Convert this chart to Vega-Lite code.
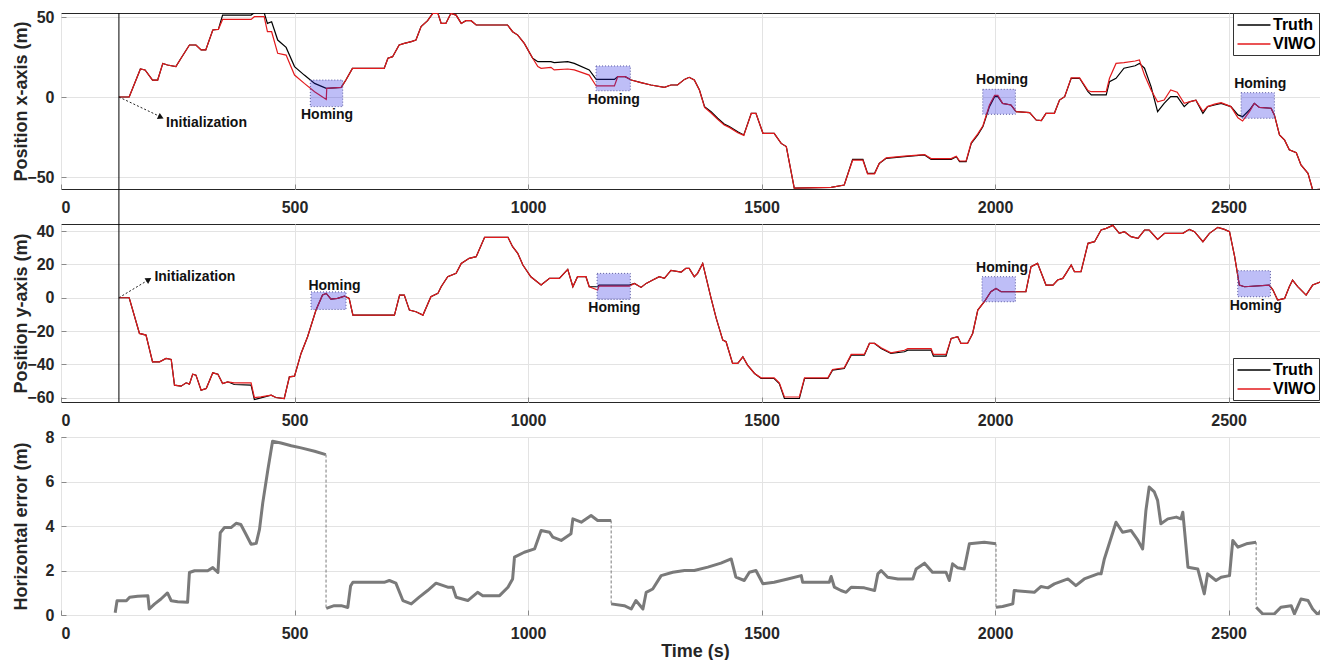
{
  "$schema": "https://vega.github.io/schema/vega-lite/v6.json",
  "padding": {"left": 11, "top": 8, "right": 0, "bottom": 0},
  "bounds": "flush",
  "spacing": 35,
  "background": "white",
  "config": {
    "font": "Liberation Sans",
    "view": {"stroke": "#262626", "strokeWidth": 1},
    "axis": {
      "labelFont": "Liberation Sans", "labelFontWeight": "bold", "labelFontSize": 16, "labelColor": "#262626",
      "titleFont": "Liberation Sans", "titleFontWeight": "bold", "titleFontSize": 18, "titleColor": "#262626",
      "gridColor": "#e3e3e3", "gridWidth": 1, "domain": false, "ticks": true, "tickSize": -5, "tickColor": "#8a8a8a",
      "labelOverlap": false, "format": "d", "tickCount": 20
    },
    "axisX": {"labelPadding": 15},
    "axisY": {"labelPadding": 12, "titleX": -31},
    "legend": {
      "title": null, "orient": "none", "symbolType": "M-2,0H2", "symbolSize": 272, "symbolStrokeWidth": 1.5,
      "symbolOffset": 9, "labelOffset": 10,
      "labelFont": "Liberation Sans", "labelFontSize": 16, "labelFontWeight": "bold", "labelColor": "black",
      "strokeColor": "#333333", "fillColor": "white", "padding": 3, "rowPadding": 2
    }
  },
  "resolve": {"scale": {"color": "independent"}, "legend": {"color": "independent"}},
  "datasets": {
    "px": [
      {"t":124,"Truth":0,"VIWO":0},{"t":146,"Truth":0,"VIWO":0},{"t":170,"Truth":17.5,"VIWO":17.5},{"t":180,"Truth":16.9,"VIWO":16.9},
      {"t":196,"Truth":10.6,"VIWO":10.6},{"t":207,"Truth":10.6,"VIWO":10.6},{"t":218,"Truth":21,"VIWO":21},{"t":228,"Truth":20,"VIWO":20},
      {"t":246,"Truth":19,"VIWO":19},{"t":257,"Truth":24.2,"VIWO":24.2},{"t":275,"Truth":32.5,"VIWO":32.5},{"t":289,"Truth":32.5,"VIWO":32.5},
      {"t":300,"Truth":29.4,"VIWO":29.4},{"t":310,"Truth":29.4,"VIWO":29.4},{"t":325,"Truth":41.9,"VIWO":41.9},{"t":337,"Truth":42.3,"VIWO":42.3},
      {"t":346,"Truth":51.2,"VIWO":48.5},{"t":407,"Truth":51.2,"VIWO":48.5},{"t":414,"Truth":52.7,"VIWO":50.2},{"t":435,"Truth":52.7,"VIWO":50.2},
      {"t":442,"Truth":46,"VIWO":40.8},{"t":451,"Truth":47,"VIWO":40.8},{"t":464,"Truth":35.6,"VIWO":27.3},{"t":482,"Truth":31,"VIWO":26.2},
      {"t":500,"Truth":19,"VIWO":13.7},{"t":521,"Truth":13.7,"VIWO":8.5},{"t":543,"Truth":8.5,"VIWO":3.3},{"t":568,"Truth":5.4,"VIWO":-1.5},
      {"t":569,"Truth":5.4,"VIWO":5.4},{"t":600,"Truth":6,"VIWO":6},{"t":610,"Truth":10.6,"VIWO":10.6},{"t":624,"Truth":17.9,"VIWO":17.9},
      {"t":692,"Truth":17.9,"VIWO":17.9},{"t":700,"Truth":24.2,"VIWO":24.2},{"t":710,"Truth":25.2,"VIWO":25.2},{"t":724,"Truth":32.5,"VIWO":32.5},
      {"t":735,"Truth":33.5,"VIWO":33.5},{"t":750,"Truth":34.6,"VIWO":34.6},{"t":760,"Truth":35.6,"VIWO":35.6},{"t":771,"Truth":44,"VIWO":44},
      {"t":785,"Truth":47.7,"VIWO":47.7},{"t":796,"Truth":52.3,"VIWO":52.3},{"t":807,"Truth":52.3,"VIWO":52.3},{"t":814,"Truth":46,"VIWO":46},
      {"t":824,"Truth":46,"VIWO":46},{"t":835,"Truth":52.3,"VIWO":52.3},{"t":846,"Truth":51.2,"VIWO":51.2},{"t":857,"Truth":46,"VIWO":46},
      {"t":867,"Truth":47.7,"VIWO":47.7},{"t":878,"Truth":47.7,"VIWO":47.7},{"t":889,"Truth":45,"VIWO":45},{"t":956,"Truth":45,"VIWO":45},
      {"t":967,"Truth":40.8,"VIWO":40.8},{"t":978,"Truth":38.7,"VIWO":38.7},{"t":992,"Truth":33.5,"VIWO":33.5},{"t":1010,"Truth":24.2,"VIWO":24.2},
      {"t":1021,"Truth":22.1,"VIWO":19},{"t":1028,"Truth":22.1,"VIWO":17.9},{"t":1049,"Truth":22.1,"VIWO":18.5},{"t":1056,"Truth":21.5,"VIWO":16.9},
      {"t":1085,"Truth":22.1,"VIWO":17.5},{"t":1099,"Truth":21,"VIWO":16.9},{"t":1131,"Truth":16.9,"VIWO":13.7},{"t":1146,"Truth":11,"VIWO":6.9},
      {"t":1185,"Truth":11,"VIWO":6.9},{"t":1192,"Truth":12.7,"VIWO":12.7},{"t":1208,"Truth":12.7,"VIWO":12.7},{"t":1221,"Truth":10.6,"VIWO":10.6},
      {"t":1242,"Truth":9,"VIWO":9},{"t":1263,"Truth":7.5,"VIWO":7.5},{"t":1292,"Truth":6,"VIWO":6},{"t":1306,"Truth":7.5,"VIWO":7.5},
      {"t":1320,"Truth":7.5,"VIWO":7.5},{"t":1335,"Truth":11,"VIWO":11},{"t":1345,"Truth":12.3,"VIWO":12.3},{"t":1356,"Truth":10.6,"VIWO":10.6},
      {"t":1367,"Truth":4.4,"VIWO":4.4},{"t":1378,"Truth":-6,"VIWO":-6.5},{"t":1392,"Truth":-9.2,"VIWO":-10},{"t":1406,"Truth":-13.3,"VIWO":-14},
      {"t":1420,"Truth":-16.9,"VIWO":-17.5},{"t":1431,"Truth":-18.5,"VIWO":-19},{"t":1449,"Truth":-21.7,"VIWO":-22.3},{"t":1462,"Truth":-23.7,"VIWO":-24},
      {"t":1478,"Truth":-10.2,"VIWO":-10.2},{"t":1488,"Truth":-10.2,"VIWO":-10.2},{"t":1503,"Truth":-22.7,"VIWO":-22.7},{"t":1527,"Truth":-22.7,"VIWO":-22.7},
      {"t":1542,"Truth":-29,"VIWO":-29},{"t":1553,"Truth":-31,"VIWO":-31},{"t":1570,"Truth":-57,"VIWO":-57},{"t":1649,"Truth":-56.5,"VIWO":-56.5},
      {"t":1677,"Truth":-55,"VIWO":-55},{"t":1695,"Truth":-39,"VIWO":-39.5},{"t":1717,"Truth":-39,"VIWO":-39.5},{"t":1727,"Truth":-47.7,"VIWO":-48},
      {"t":1742,"Truth":-47.7,"VIWO":-48},{"t":1752,"Truth":-41.5,"VIWO":-41.5},{"t":1767,"Truth":-38.3,"VIWO":-38},{"t":1806,"Truth":-37.3,"VIWO":-37},
      {"t":1849,"Truth":-36.2,"VIWO":-36},{"t":1863,"Truth":-39,"VIWO":-38.5},{"t":1906,"Truth":-39,"VIWO":-38.5},{"t":1917,"Truth":-37.3,"VIWO":-37},
      {"t":1924,"Truth":-40.4,"VIWO":-40},{"t":1938,"Truth":-40.4,"VIWO":-40},{"t":1949,"Truth":-29,"VIWO":-28.5},{"t":1963,"Truth":-23.7,"VIWO":-23},
      {"t":1974,"Truth":-18.5,"VIWO":-18},{"t":1988,"Truth":-6,"VIWO":-5},{"t":1999,"Truth":0.2,"VIWO":1},{"t":2006,"Truth":0.2,"VIWO":1},
      {"t":2016,"Truth":-4,"VIWO":-4},{"t":2034,"Truth":-5,"VIWO":-5},{"t":2045,"Truth":-9.2,"VIWO":-9.2},{"t":2074,"Truth":-9.8,"VIWO":-9.8},
      {"t":2088,"Truth":-14.4,"VIWO":-14.4},{"t":2099,"Truth":-14.8,"VIWO":-14.8},{"t":2109,"Truth":-10.2,"VIWO":-10.2},{"t":2127,"Truth":-10.2,"VIWO":-10.2},
      {"t":2138,"Truth":-1.9,"VIWO":-1.9},{"t":2149,"Truth":0.2,"VIWO":0.2},{"t":2163,"Truth":11.7,"VIWO":12},{"t":2181,"Truth":11.7,"VIWO":12},
      {"t":2199,"Truth":3.3,"VIWO":4},{"t":2206,"Truth":1.3,"VIWO":3.3},{"t":2238,"Truth":1.3,"VIWO":3.3},{"t":2245,"Truth":9.6,"VIWO":11.7},
      {"t":2259,"Truth":11.7,"VIWO":21},{"t":2276,"Truth":18,"VIWO":21.5},{"t":2300,"Truth":19.5,"VIWO":22.5},{"t":2309,"Truth":21,"VIWO":23.1},
      {"t":2320,"Truth":18,"VIWO":13.7},{"t":2334,"Truth":6.5,"VIWO":4.4},{"t":2348,"Truth":-9.2,"VIWO":-3},{"t":2362,"Truth":-4,"VIWO":-1.9},
      {"t":2376,"Truth":0.2,"VIWO":4.4},{"t":2390,"Truth":0.2,"VIWO":3},{"t":2405,"Truth":-6,"VIWO":-4},{"t":2416,"Truth":-3,"VIWO":-3},
      {"t":2430,"Truth":-2,"VIWO":-2},{"t":2445,"Truth":-10.2,"VIWO":-9},{"t":2455,"Truth":-6,"VIWO":-6},{"t":2470,"Truth":-5,"VIWO":-4.5},
      {"t":2484,"Truth":-4,"VIWO":-3.5},{"t":2505,"Truth":-6,"VIWO":-6},{"t":2520,"Truth":-11.2,"VIWO":-13},{"t":2530,"Truth":-12.3,"VIWO":-15},
      {"t":2545,"Truth":-8,"VIWO":-9},{"t":2555,"Truth":-4,"VIWO":-4},{"t":2566,"Truth":-6.5,"VIWO":-6.5},{"t":2591,"Truth":-7,"VIWO":-7},
      {"t":2598,"Truth":-11.2,"VIWO":-11.2},{"t":2609,"Truth":-23.7,"VIWO":-23.7},{"t":2620,"Truth":-27,"VIWO":-27},{"t":2630,"Truth":-33,"VIWO":-33},
      {"t":2645,"Truth":-34.8,"VIWO":-34.8},{"t":2655,"Truth":-42.5,"VIWO":-42.5},{"t":2670,"Truth":-47.7,"VIWO":-47.7},{"t":2680,"Truth":-58,"VIWO":-58},
      {"t":2698,"Truth":-57.7,"VIWO":-57.7},{"t":2715,"Truth":-57,"VIWO":-57}
    ],
    "py": [
      {"t":124,"Truth":0,"VIWO":0},{"t":146,"Truth":0,"VIWO":0},{"t":168,"Truth":-21.4,"VIWO":-21.4},{"t":182,"Truth":-22.4,"VIWO":-22.4},
      {"t":196,"Truth":-38.4,"VIWO":-38.4},{"t":211,"Truth":-38.4,"VIWO":-38.4},{"t":225,"Truth":-36.4,"VIWO":-36.4},{"t":236,"Truth":-37,"VIWO":-37},
      {"t":243,"Truth":-52.4,"VIWO":-52.4},{"t":257,"Truth":-53,"VIWO":-53},{"t":268,"Truth":-51,"VIWO":-51},{"t":275,"Truth":-51.8,"VIWO":-51.8},
      {"t":282,"Truth":-45.8,"VIWO":-45.8},{"t":289,"Truth":-46.4,"VIWO":-46.4},{"t":300,"Truth":-55.4,"VIWO":-55.4},{"t":311,"Truth":-54.4,"VIWO":-54.4},
      {"t":325,"Truth":-45,"VIWO":-45},{"t":336,"Truth":-45.8,"VIWO":-45.8},{"t":346,"Truth":-51.4,"VIWO":-51.4},{"t":357,"Truth":-50.4,"VIWO":-50.4},
      {"t":371,"Truth":-52,"VIWO":-51},{"t":407,"Truth":-52.4,"VIWO":-51},{"t":414,"Truth":-61,"VIWO":-59.8},{"t":428,"Truth":-60,"VIWO":-59.4},
      {"t":450,"Truth":-58.4,"VIWO":-58.4},{"t":460,"Truth":-59.8,"VIWO":-59.8},{"t":478,"Truth":-60.4,"VIWO":-60.4},{"t":489,"Truth":-47.4,"VIWO":-47.4},
      {"t":500,"Truth":-47,"VIWO":-47},{"t":514,"Truth":-33.4,"VIWO":-33.4},{"t":528,"Truth":-23.4,"VIWO":-23.4},{"t":546,"Truth":-7.4,"VIWO":-7.4},
      {"t":560,"Truth":1.6,"VIWO":1.6},{"t":568,"Truth":2.6,"VIWO":2.6},{"t":578,"Truth":-0.8,"VIWO":-0.8},{"t":592,"Truth":-0.4,"VIWO":-0.4},
      {"t":607,"Truth":1,"VIWO":1},{"t":617,"Truth":-0.4,"VIWO":-0.4},{"t":625,"Truth":-10.4,"VIWO":-10.4},{"t":714,"Truth":-10.4,"VIWO":-10.4},
      {"t":725,"Truth":1.6,"VIWO":1.6},{"t":735,"Truth":1.6,"VIWO":1.6},{"t":746,"Truth":-7.4,"VIWO":-7.4},{"t":760,"Truth":-8.4,"VIWO":-8.4},
      {"t":775,"Truth":-10.4,"VIWO":-10.4},{"t":792,"Truth":0.6,"VIWO":0.6},{"t":807,"Truth":2.6,"VIWO":2.6},{"t":814,"Truth":6.6,"VIWO":6.6},
      {"t":828,"Truth":12.6,"VIWO":12.6},{"t":846,"Truth":14.6,"VIWO":14.6},{"t":857,"Truth":20.6,"VIWO":20.6},{"t":874,"Truth":23.6,"VIWO":23.6},
      {"t":889,"Truth":24.6,"VIWO":24.6},{"t":907,"Truth":36.2,"VIWO":36.2},{"t":957,"Truth":36.2,"VIWO":36.2},{"t":967,"Truth":30.6,"VIWO":30.6},
      {"t":978,"Truth":26.6,"VIWO":26.6},{"t":989,"Truth":19.6,"VIWO":19.6},{"t":1006,"Truth":12.6,"VIWO":12.6},{"t":1028,"Truth":7.6,"VIWO":7.6},
      {"t":1046,"Truth":11.6,"VIWO":11.6},{"t":1067,"Truth":11.6,"VIWO":11.6},{"t":1085,"Truth":17,"VIWO":17},{"t":1096,"Truth":6.6,"VIWO":6.6},
      {"t":1106,"Truth":12.6,"VIWO":12.6},{"t":1124,"Truth":12.6,"VIWO":12.6},{"t":1131,"Truth":6.6,"VIWO":6.6},{"t":1149,"Truth":6.6,"VIWO":4.6},
      {"t":1152,"Truth":7.6,"VIWO":7},{"t":1217,"Truth":7.6,"VIWO":7},{"t":1228,"Truth":8.6,"VIWO":8.6},{"t":1242,"Truth":6.2,"VIWO":6.2},
      {"t":1253,"Truth":8.6,"VIWO":8.6},{"t":1267,"Truth":10.6,"VIWO":10.6},{"t":1281,"Truth":12.6,"VIWO":12.6},{"t":1292,"Truth":11.6,"VIWO":11.6},
      {"t":1306,"Truth":16.4,"VIWO":16.4},{"t":1328,"Truth":15.4,"VIWO":15.4},{"t":1338,"Truth":17.6,"VIWO":17.6},{"t":1345,"Truth":17.6,"VIWO":17.6},
      {"t":1356,"Truth":12.6,"VIWO":12.6},{"t":1363,"Truth":14.6,"VIWO":14.6},{"t":1374,"Truth":20.6,"VIWO":20.6},{"t":1392,"Truth":-0.4,"VIWO":-0.4},
      {"t":1403,"Truth":-12.4,"VIWO":-12.4},{"t":1417,"Truth":-25.4,"VIWO":-25.4},{"t":1424,"Truth":-26.4,"VIWO":-26.4},{"t":1438,"Truth":-39.4,"VIWO":-39.4},
      {"t":1449,"Truth":-39.4,"VIWO":-39.4},{"t":1460,"Truth":-35.4,"VIWO":-35.4},{"t":1470,"Truth":-40.4,"VIWO":-40.4},{"t":1485,"Truth":-45.4,"VIWO":-45.4},
      {"t":1499,"Truth":-48.4,"VIWO":-48},{"t":1527,"Truth":-48.4,"VIWO":-48},{"t":1538,"Truth":-51.4,"VIWO":-51},{"t":1549,"Truth":-60.4,"VIWO":-59.5},
      {"t":1581,"Truth":-60.4,"VIWO":-59.5},{"t":1592,"Truth":-48.4,"VIWO":-48},{"t":1642,"Truth":-48.4,"VIWO":-48},{"t":1652,"Truth":-43.4,"VIWO":-43},
      {"t":1677,"Truth":-42.4,"VIWO":-42},{"t":1692,"Truth":-34.4,"VIWO":-34},{"t":1720,"Truth":-34.4,"VIWO":-34},{"t":1731,"Truth":-27.4,"VIWO":-27.4},
      {"t":1742,"Truth":-27.4,"VIWO":-27.4},{"t":1756,"Truth":-30.4,"VIWO":-30},{"t":1777,"Truth":-33.4,"VIWO":-33},{"t":1806,"Truth":-32.4,"VIWO":-31.5},
      {"t":1813,"Truth":-31.4,"VIWO":-30.5},{"t":1863,"Truth":-31.4,"VIWO":-30.5},{"t":1868,"Truth":-35,"VIWO":-34},{"t":1895,"Truth":-35,"VIWO":-34},
      {"t":1906,"Truth":-24.4,"VIWO":-24.4},{"t":1920,"Truth":-23.4,"VIWO":-23.4},{"t":1927,"Truth":-27.4,"VIWO":-27.4},{"t":1941,"Truth":-27.4,"VIWO":-27.4},
      {"t":1952,"Truth":-21.4,"VIWO":-21.4},{"t":1963,"Truth":-7.4,"VIWO":-7.4},{"t":1977,"Truth":-2.4,"VIWO":-2.4},{"t":1991,"Truth":3.6,"VIWO":3.6},
      {"t":2002,"Truth":5.6,"VIWO":5.6},{"t":2013,"Truth":3.6,"VIWO":3.6},{"t":2066,"Truth":3.6,"VIWO":3.6},{"t":2077,"Truth":18.6,"VIWO":18.6},
      {"t":2091,"Truth":20.6,"VIWO":20.6},{"t":2109,"Truth":7.6,"VIWO":7.6},{"t":2124,"Truth":7.6,"VIWO":7.6},{"t":2134,"Truth":10.6,"VIWO":10.6},
      {"t":2145,"Truth":11.6,"VIWO":11.6},{"t":2152,"Truth":14.6,"VIWO":14.6},{"t":2163,"Truth":19.6,"VIWO":19.6},{"t":2170,"Truth":15.6,"VIWO":15.6},
      {"t":2184,"Truth":15.6,"VIWO":15.6},{"t":2199,"Truth":32.6,"VIWO":32.6},{"t":2213,"Truth":33.6,"VIWO":33.6},{"t":2227,"Truth":40.6,"VIWO":40.6},
      {"t":2238,"Truth":41.6,"VIWO":41.6},{"t":2252,"Truth":43.4,"VIWO":43.4},{"t":2266,"Truth":38.6,"VIWO":38.6},{"t":2277,"Truth":39.6,"VIWO":39.6},
      {"t":2291,"Truth":36.6,"VIWO":36.6},{"t":2306,"Truth":35.6,"VIWO":35.6},{"t":2320,"Truth":40.6,"VIWO":40.6},{"t":2330,"Truth":40.6,"VIWO":40.6},
      {"t":2348,"Truth":35,"VIWO":35},{"t":2363,"Truth":38.6,"VIWO":38.6},{"t":2402,"Truth":38.6,"VIWO":38.6},{"t":2416,"Truth":41,"VIWO":41},
      {"t":2427,"Truth":39.6,"VIWO":39.6},{"t":2445,"Truth":33.6,"VIWO":33.6},{"t":2459,"Truth":38.6,"VIWO":38.6},{"t":2477,"Truth":42.2,"VIWO":42.2},
      {"t":2491,"Truth":41,"VIWO":41},{"t":2502,"Truth":39.6,"VIWO":39.6},{"t":2513,"Truth":24.6,"VIWO":24.6},{"t":2523,"Truth":7.6,"VIWO":7.6},
      {"t":2534,"Truth":6.6,"VIWO":6.6},{"t":2587,"Truth":7.6,"VIWO":7.6},{"t":2595,"Truth":4.6,"VIWO":4.6},{"t":2605,"Truth":-1.4,"VIWO":-1.4},
      {"t":2620,"Truth":-0.4,"VIWO":-0.4},{"t":2630,"Truth":6.6,"VIWO":6.6},{"t":2637,"Truth":10.6,"VIWO":10.6},{"t":2648,"Truth":6.6,"VIWO":6.6},
      {"t":2666,"Truth":1.6,"VIWO":1.6},{"t":2680,"Truth":7.6,"VIWO":7.6},{"t":2698,"Truth":9.6,"VIWO":9.6},{"t":2715,"Truth":9.6,"VIWO":9.6}
    ],
    "err": [
      {"t":116,"e":0.1,"seg":1},{"t":120,"e":0.64,"seg":1},{"t":140,"e":0.64,"seg":1},{"t":147,"e":0.8,"seg":1},{"t":164,"e":0.84,"seg":1},
      {"t":186,"e":0.87,"seg":1},{"t":189,"e":0.27,"seg":1},{"t":200,"e":0.49,"seg":1},{"t":214,"e":0.72,"seg":1},{"t":228,"e":0.99,"seg":1},
      {"t":236,"e":0.64,"seg":1},{"t":250,"e":0.6,"seg":1},{"t":271,"e":0.57,"seg":1},{"t":275,"e":1.91,"seg":1},{"t":286,"e":1.99,"seg":1},
      {"t":314,"e":1.99,"seg":1},{"t":325,"e":2.13,"seg":1},{"t":336,"e":1.91,"seg":1},{"t":341,"e":3.7,"seg":1},{"t":350,"e":3.93,"seg":1},
      {"t":364,"e":3.93,"seg":1},{"t":375,"e":4.12,"seg":1},{"t":385,"e":4.07,"seg":1},{"t":396,"e":3.63,"seg":1},{"t":407,"e":3.18,"seg":1},
      {"t":418,"e":3.22,"seg":1},{"t":425,"e":3.85,"seg":1},{"t":432,"e":5.04,"seg":1},{"t":443,"e":6.54,"seg":1},{"t":453,"e":7.81,"seg":1},
      {"t":471,"e":7.73,"seg":1},{"t":493,"e":7.61,"seg":1},{"t":514,"e":7.51,"seg":1},{"t":543,"e":7.36,"seg":1},{"t":567,"e":7.21,"seg":1},
      {"t":568,"e":0.3,"seg":2},{"t":585,"e":0.42,"seg":2},{"t":600,"e":0.42,"seg":2},{"t":614,"e":0.34,"seg":2},{"t":620,"e":1.3,"seg":2},
      {"t":625,"e":1.47,"seg":2},{"t":692,"e":1.47,"seg":2},{"t":703,"e":1.55,"seg":2},{"t":717,"e":1.43,"seg":2},{"t":732,"e":0.65,"seg":2},
      {"t":750,"e":0.5,"seg":2},{"t":767,"e":0.8,"seg":2},{"t":785,"e":1.1,"seg":2},{"t":803,"e":1.43,"seg":2},{"t":828,"e":1.25,"seg":2},
      {"t":839,"e":1.25,"seg":2},{"t":846,"e":0.8,"seg":2},{"t":871,"e":0.65,"seg":2},{"t":892,"e":1.02,"seg":2},{"t":903,"e":0.87,"seg":2},
      {"t":939,"e":0.87,"seg":2},{"t":957,"e":1.25,"seg":2},{"t":967,"e":1.62,"seg":2},{"t":971,"e":2.6,"seg":2},{"t":992,"e":2.82,"seg":2},
      {"t":1014,"e":2.97,"seg":2},{"t":1028,"e":3.8,"seg":2},{"t":1046,"e":3.72,"seg":2},{"t":1053,"e":3.5,"seg":2},{"t":1071,"e":3.35,"seg":2},
      {"t":1092,"e":3.65,"seg":2},{"t":1096,"e":4.32,"seg":2},{"t":1114,"e":4.17,"seg":2},{"t":1135,"e":4.47,"seg":2},{"t":1149,"e":4.25,"seg":2},
      {"t":1178,"e":4.25,"seg":2},
      {"t":1178,"e":0.5,"seg":3},{"t":1206,"e":0.42,"seg":3},{"t":1221,"e":0.27,"seg":3},{"t":1231,"e":0.65,"seg":3},{"t":1246,"e":0.27,"seg":3},
      {"t":1253,"e":1.02,"seg":3},{"t":1267,"e":1.17,"seg":3},{"t":1285,"e":1.77,"seg":3},{"t":1310,"e":1.92,"seg":3},{"t":1335,"e":2,"seg":3},
      {"t":1356,"e":2,"seg":3},{"t":1385,"e":2.15,"seg":3},{"t":1413,"e":2.33,"seg":3},{"t":1435,"e":2.52,"seg":3},{"t":1445,"e":1.7,"seg":3},
      {"t":1463,"e":1.55,"seg":3},{"t":1474,"e":1.92,"seg":3},{"t":1488,"e":2,"seg":3},{"t":1503,"e":1.4,"seg":3},{"t":1527,"e":1.47,"seg":3},
      {"t":1556,"e":1.62,"seg":3},{"t":1585,"e":1.77,"seg":3},{"t":1588,"e":1.47,"seg":3},{"t":1645,"e":1.47,"seg":3},{"t":1649,"e":1.73,"seg":3},
      {"t":1656,"e":1.25,"seg":3},{"t":1670,"e":1.1,"seg":3},{"t":1681,"e":1.02,"seg":3},{"t":1692,"e":1.25,"seg":3},{"t":1720,"e":1.22,"seg":3},
      {"t":1742,"e":1.1,"seg":3},{"t":1749,"e":1.85,"seg":3},{"t":1756,"e":2,"seg":3},{"t":1770,"e":1.7,"seg":3},{"t":1792,"e":1.62,"seg":3},
      {"t":1824,"e":1.62,"seg":3},{"t":1831,"e":2.07,"seg":3},{"t":1849,"e":2.33,"seg":3},{"t":1866,"e":1.92,"seg":3},{"t":1895,"e":1.92,"seg":3},
      {"t":1902,"e":1.55,"seg":3},{"t":1909,"e":2.3,"seg":3},{"t":1920,"e":2.12,"seg":3},{"t":1934,"e":2.07,"seg":3},{"t":1945,"e":3.2,"seg":3},
      {"t":1977,"e":3.27,"seg":3},{"t":2002,"e":3.2,"seg":3},
      {"t":2002,"e":0.35,"seg":4},{"t":2016,"e":0.38,"seg":4},{"t":2038,"e":0.5,"seg":4},{"t":2041,"e":1.1,"seg":4},{"t":2084,"e":1.02,"seg":4},
      {"t":2098,"e":1.28,"seg":4},{"t":2113,"e":1.22,"seg":4},{"t":2127,"e":1.4,"seg":4},{"t":2156,"e":1.62,"seg":4},{"t":2173,"e":1.32,"seg":4},
      {"t":2191,"e":1.62,"seg":4},{"t":2220,"e":1.85,"seg":4},{"t":2227,"e":1.85,"seg":4},{"t":2234,"e":2.52,"seg":4},{"t":2259,"e":4.17,"seg":4},
      {"t":2273,"e":3.72,"seg":4},{"t":2291,"e":3.8,"seg":4},{"t":2306,"e":3.35,"seg":4},{"t":2316,"e":2.97,"seg":4},{"t":2323,"e":4.7,"seg":4},
      {"t":2330,"e":5.75,"seg":4},{"t":2341,"e":5.53,"seg":4},{"t":2348,"e":5.15,"seg":4},{"t":2355,"e":4.1,"seg":4},{"t":2370,"e":4.32,"seg":4},
      {"t":2388,"e":4.4,"seg":4},{"t":2398,"e":4.32,"seg":4},{"t":2402,"e":4.62,"seg":4},{"t":2413,"e":2.15,"seg":4},{"t":2434,"e":2.07,"seg":4},
      {"t":2448,"e":0.95,"seg":4},{"t":2455,"e":1.85,"seg":4},{"t":2473,"e":1.55,"seg":4},{"t":2484,"e":1.7,"seg":4},{"t":2502,"e":1.77,"seg":4},
      {"t":2509,"e":3.35,"seg":4},{"t":2520,"e":3.05,"seg":4},{"t":2538,"e":3.2,"seg":4},{"t":2559,"e":3.27,"seg":4},
      {"t":2559,"e":0.35,"seg":5},{"t":2573,"e":0.05,"seg":5},{"t":2598,"e":0.05,"seg":5},{"t":2612,"e":0.35,"seg":5},{"t":2634,"e":0.42,"seg":5},
      {"t":2641,"e":0.05,"seg":5},{"t":2655,"e":0.72,"seg":5},{"t":2670,"e":0.65,"seg":5},{"t":2680,"e":0.27,"seg":5},{"t":2691,"e":0.02,"seg":5},
      {"t":2698,"e":0.2,"seg":5}
    ]
  },
  "vconcat": [
    {
      "width": 1268, "height": 176,
      "encoding": {
        "x": {"field": "t", "type": "quantitative", "scale": {"domain": [0, 2715], "nice": false, "zero": false},
              "axis": {"values": [0, 500, 1000, 1500, 2000, 2500], "title": null, "labelOverlap": false}}
      },
      "layer": [
        {
          "data": {"name": "px"},
          "transform": [{"fold": ["Truth", "VIWO"], "as": ["series", "value"]}],
          "mark": {"type": "line", "strokeWidth": 1.2, "clip": true},
          "encoding": {
            "y": {"field": "value", "type": "quantitative", "scale": {"domain": [-57.5, 52.5], "nice": false, "zero": false},
                  "axis": {"values": [-50, 0, 50], "title": "Position x-axis (m)", "labelOverlap": false}},
            "color": {"field": "series", "type": "nominal", "scale": {"domain": ["Truth", "VIWO"], "range": ["#000000", "#e31a1c"]},
                      "legend": {"legendX": 1172, "legendY": 0}}
          }
        },
        {
          "data": {"values": [{"t": 124, "top": 52.5, "bot": -79.5}]},
          "mark": {"type": "rule", "color": "#000000", "strokeWidth": 1, "clip": false},
          "encoding": {"y": {"field": "top", "type": "quantitative"}, "y2": {"field": "bot"}}
        },
        {
          "data": {"values": [
            {"t1": 533.8, "t2": 603.2, "v1": -6, "v2": 10.6},
            {"t1": 1145.6, "t2": 1219, "v1": 3.9, "v2": 19.4},
            {"t1": 1973.6, "t2": 2043.5, "v1": -10.8, "v2": 4.8},
            {"t1": 2526.8, "t2": 2598.1, "v1": -13.3, "v2": 2.7}
          ]},
          "mark": {"type": "rect", "fill": "#2828e6", "fillOpacity": 0.3, "stroke": "#5a5aa0", "strokeDash": [1, 2], "strokeWidth": 1},
          "encoding": {
            "x": {"field": "t1", "type": "quantitative"}, "x2": {"field": "t2"},
            "y": {"field": "v1", "type": "quantitative"}, "y2": {"field": "v2"}
          }
        },
        {
          "data": {"values": [
            {"t": 569.6, "v": -11.25, "label": "Homing"},
            {"t": 1183.5, "v": -1.9, "label": "Homing"},
            {"t": 2015, "v": 10.6, "label": "Homing"},
            {"t": 2567.8, "v": 7.9, "label": "Homing"}
          ]},
          "mark": {"type": "text", "fontWeight": "bold", "fontSize": 14, "font": "Liberation Sans", "color": "#111111", "align": "center", "baseline": "middle"},
          "encoding": {"x": {"field": "t", "type": "quantitative"}, "y": {"field": "v", "type": "quantitative"}, "text": {"field": "label"}}
        },
        {
          "data": {"values": [{"t": 124, "v": 0}, {"t": 212, "v": -12.2}]},
          "mark": {"type": "line", "color": "#222222", "strokeWidth": 1, "strokeDash": [2, 2]},
          "encoding": {"x": {"field": "t", "type": "quantitative"}, "y": {"field": "v", "type": "quantitative"}}
        },
        {
          "data": {"values": [{"t": 214, "v": -12.6}]},
          "mark": {"type": "point", "shape": "triangle-right", "filled": true, "color": "#111111", "size": 45, "angle": 25, "opacity": 1},
          "encoding": {"x": {"field": "t", "type": "quantitative"}, "y": {"field": "v", "type": "quantitative"}}
        },
        {
          "data": {"values": [{"t": 225, "v": -16.5, "label": "Initialization"}]},
          "mark": {"type": "text", "fontWeight": "bold", "fontSize": 14, "font": "Liberation Sans", "color": "#111111", "align": "left", "baseline": "middle"},
          "encoding": {"x": {"field": "t", "type": "quantitative"}, "y": {"field": "v", "type": "quantitative"}, "text": {"field": "label"}}
        }
      ]
    },
    {
      "width": 1268, "height": 178,
      "encoding": {
        "x": {"field": "t", "type": "quantitative", "scale": {"domain": [0, 2715], "nice": false, "zero": false},
              "axis": {"values": [0, 500, 1000, 1500, 2000, 2500], "title": null, "labelOverlap": false}}
      },
      "layer": [
        {
          "data": {"name": "py"},
          "transform": [{"fold": ["Truth", "VIWO"], "as": ["series", "value"]}],
          "mark": {"type": "line", "strokeWidth": 1.2, "clip": true},
          "encoding": {
            "y": {"field": "value", "type": "quantitative", "scale": {"domain": [-62.5, 44.2], "nice": false, "zero": false},
                  "axis": {"values": [-60, -40, -20, 0, 20, 40], "tickCount": 20, "title": "Position y-axis (m)", "labelOverlap": false}},
            "color": {"field": "series", "type": "nominal", "scale": {"domain": ["Truth", "VIWO"], "range": ["#000000", "#e31a1c"]},
                      "legend": {"legendX": 1172, "legendY": 134}}
          }
        },
        {
          "data": {"values": [{"t": 124}]},
          "mark": {"type": "rule", "color": "#000000", "strokeWidth": 1},
          "encoding": {}
        },
        {
          "data": {"values": [
            {"t1": 535.3, "t2": 610.3, "v1": -7, "v2": 3.5},
            {"t1": 1147.8, "t2": 1219, "v1": -1, "v2": 14.6},
            {"t1": 1972, "t2": 2043.5, "v1": -2.4, "v2": 12.6},
            {"t1": 2519.6, "t2": 2589.5, "v1": 0.6, "v2": 16.2}
          ]},
          "mark": {"type": "rect", "fill": "#2828e6", "fillOpacity": 0.3, "stroke": "#5a5aa0", "strokeDash": [1, 2], "strokeWidth": 1},
          "encoding": {
            "x": {"field": "t1", "type": "quantitative"}, "x2": {"field": "t2"},
            "y": {"field": "v1", "type": "quantitative"}, "y2": {"field": "v2"}
          }
        },
        {
          "data": {"values": [
            {"t": 585.6, "v": 7.2, "label": "Homing"},
            {"t": 1184.8, "v": -6.4, "label": "Homing"},
            {"t": 2015, "v": 17.6, "label": "Homing"},
            {"t": 2558, "v": -5, "label": "Homing"}
          ]},
          "mark": {"type": "text", "fontWeight": "bold", "fontSize": 14, "font": "Liberation Sans", "color": "#111111", "align": "center", "baseline": "middle"},
          "encoding": {"x": {"field": "t", "type": "quantitative"}, "y": {"field": "v", "type": "quantitative"}, "text": {"field": "label"}}
        },
        {
          "data": {"values": [{"t": 124, "v": 0}, {"t": 186, "v": 10.5}]},
          "mark": {"type": "line", "color": "#222222", "strokeWidth": 1, "strokeDash": [2, 2]},
          "encoding": {"x": {"field": "t", "type": "quantitative"}, "y": {"field": "v", "type": "quantitative"}}
        },
        {
          "data": {"values": [{"t": 188, "v": 10.9}]},
          "mark": {"type": "point", "shape": "triangle-right", "filled": true, "color": "#111111", "size": 45, "angle": -32, "opacity": 1},
          "encoding": {"x": {"field": "t", "type": "quantitative"}, "y": {"field": "v", "type": "quantitative"}}
        },
        {
          "data": {"values": [{"t": 200, "v": 12.6, "label": "Initialization"}]},
          "mark": {"type": "text", "fontWeight": "bold", "fontSize": 14, "font": "Liberation Sans", "color": "#111111", "align": "left", "baseline": "middle"},
          "encoding": {"x": {"field": "t", "type": "quantitative"}, "y": {"field": "v", "type": "quantitative"}, "text": {"field": "label"}}
        }
      ]
    },
    {
      "width": 1268, "height": 178,
      "view": {"stroke": "#a0a0a0"},
      "encoding": {
        "x": {"field": "t", "type": "quantitative", "scale": {"domain": [0, 2715], "nice": false, "zero": false},
              "axis": {"values": [0, 500, 1000, 1500, 2000, 2500], "title": "Time (s)", "titlePadding": 1, "labelOverlap": false}}
      },
      "layer": [
        {
          "data": {"name": "err"},
          "mark": {"type": "line", "color": "#7a7a7a", "strokeWidth": 3, "strokeJoin": "round", "clip": true},
          "encoding": {
            "y": {"field": "e", "type": "quantitative", "scale": {"domain": [0, 8], "nice": false, "zero": false},
                  "axis": {"values": [0, 2, 4, 6, 8], "tickCount": 20, "title": "Horizontal error (m)", "labelOverlap": false}},
            "detail": {"field": "seg", "type": "nominal"}
          }
        },
        {
          "data": {"values": [
            {"t": 567.5, "top": 7.21, "bot": 0.3},
            {"t": 1178, "top": 4.25, "bot": 0.5},
            {"t": 2002, "top": 3.2, "bot": 0.35},
            {"t": 2559, "top": 3.27, "bot": 0.35}
          ]},
          "mark": {"type": "rule", "color": "#7a7a7a", "strokeWidth": 1, "strokeDash": [3, 2]},
          "encoding": {"y": {"field": "top", "type": "quantitative"}, "y2": {"field": "bot"}}
        }
      ]
    }
  ]
}
